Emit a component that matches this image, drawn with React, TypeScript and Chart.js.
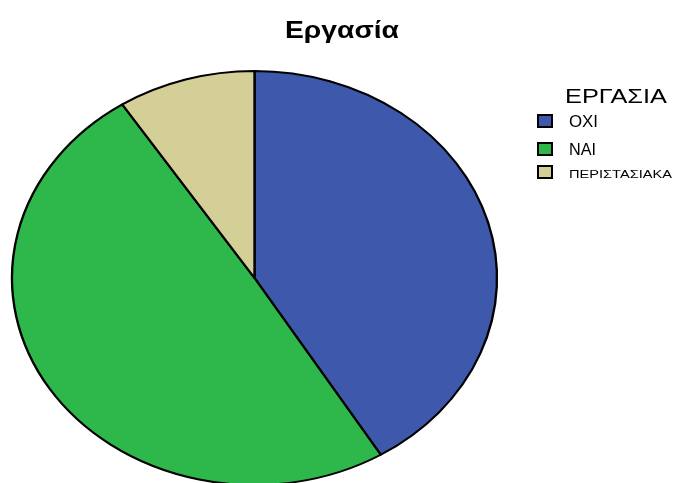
import React, { useEffect, useRef } from "react";
import { Chart, registerables } from "chart.js";

Chart.register(...registerables);

const chartTitle = "Εργασία";
const legendTitle = "ΕΡΓΑΣΙΑ";
const categories = ["ΟΧΙ", "ΝΑΙ", "ΠΕΡΙΣΤΑΣΙΑΚΑ"];
const counts = [45, 54, 10];
const sliceColors = ["#3E58AC", "#2EB84B", "#D4CE97"];

const W = 674;
const H = 483;
const FONT = "'Liberation Sans', Arial, Helvetica, sans-serif";
const STRETCH_X = 242.5 / 207; // pie is drawn as an ellipse

function stretchedText(
  ctx: CanvasRenderingContext2D,
  text: string,
  x: number,
  y: number,
  font: string,
  targetWidth: number,
  align: "left" | "center"
) {
  ctx.save();
  ctx.font = font;
  ctx.fillStyle = "#000";
  ctx.textBaseline = "alphabetic";
  ctx.textAlign = align;
  const w = ctx.measureText(text).width;
  const s = targetWidth / w;
  ctx.translate(x, y);
  ctx.scale(s, 1);
  ctx.fillText(text, 0, 0);
  ctx.restore();
}

const ellipsePlugin = {
  id: "ellipsePie",
  beforeDatasetsDraw(chart: any) {
    const arc = chart.getDatasetMeta(0).data[0];
    const ctx = chart.ctx;
    ctx.save();
    if (arc) {
      ctx.translate(arc.x, arc.y);
      ctx.scale(STRETCH_X, 1);
      ctx.translate(-arc.x, -arc.y);
    }
  },
  afterDatasetsDraw(chart: any) {
    chart.ctx.restore();
  },
};

const decorPlugin = {
  id: "spssDecor",
  afterDraw(chart: any) {
    const ctx: CanvasRenderingContext2D = chart.ctx;
    // Chart title
    stretchedText(ctx, chartTitle, 342, 38, `bold 23px ${FONT}`, 114, "center");
    // Legend title
    stretchedText(ctx, legendTitle, 565, 103, `20px ${FONT}`, 102, "left");
    // Legend items
    const labels: string[] = chart.data.labels;
    const colors: string[] = chart.data.datasets[0].backgroundColor;
    const rows = [
      { base: 127, size: 16, width: 29 },
      { base: 155, size: 16, width: 27 },
      { base: 178, size: 11, width: 103 },
    ];
    labels.forEach((lab, i) => {
      const r = rows[i];
      const boxTop = r.base - 12;
      ctx.save();
      ctx.fillStyle = colors[i];
      ctx.fillRect(538, boxTop, 14, 12);
      ctx.lineWidth = 2;
      ctx.strokeStyle = "#000";
      ctx.strokeRect(538, boxTop, 14, 12);
      ctx.restore();
      stretchedText(ctx, lab, 569, r.base, `${r.size}px ${FONT}`, r.width, "left");
    });
  },
};

export default function App() {
  const ref = useRef<HTMLCanvasElement | null>(null);
  useEffect(() => {
    if (!ref.current) return;
    const chart = new Chart(ref.current, {
      type: "pie",
      data: {
        labels: categories,
        datasets: [
          {
            data: counts,
            backgroundColor: sliceColors,
            borderColor: "#000000",
            borderWidth: 2,
            radius: 207,
            clip: false,
          } as any,
        ],
      },
      options: {
        responsive: false,
        animation: false,
        devicePixelRatio: 1,
        layout: { padding: { top: 73, bottom: 0, left: 0, right: 165 } },
        plugins: {
          legend: { display: false },
          title: { display: false },
          tooltip: { enabled: false },
        },
        events: [],
      },
      plugins: [ellipsePlugin, decorPlugin],
    });
    return () => chart.destroy();
  }, []);
  return (
    <div
      style={{
        position: "fixed",
        left: 0,
        top: 0,
        width: W,
        height: H,
        overflow: "hidden",
        background: "#fff",
      }}
    >
      <canvas ref={ref} width={W} height={H} style={{ display: "block" }} />
    </div>
  );
}
